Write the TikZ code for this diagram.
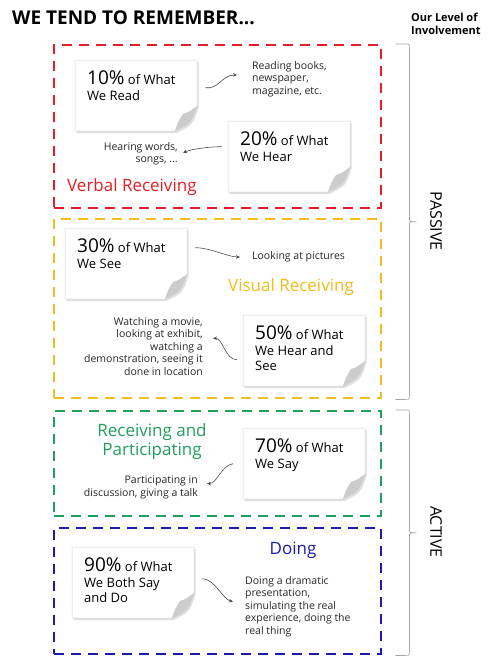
\documentclass[tikz,border=0pt]{standalone}
\usepackage{fontspec}
\setmainfont{Open Sans}
\usetikzlibrary{arrows.meta,calc,shadows,backgrounds}

\definecolor{verbalred}{RGB}{226,30,38}
\definecolor{visualyellow}{RGB}{240,188,30}
\definecolor{partgreen}{RGB}{32,160,92}
\definecolor{doingblue}{RGB}{28,28,170}

% text of a note card: big percentage, then the rest
\newcommand{\pct}[2]{\parbox[c][49pt][t]{98pt}{\fontsize{13}{15.5}\selectfont
  {\fontsize{19}{19}\selectfont #1\%} #2}}

\begin{document}
\begin{tikzpicture}[
  x=1pt, y=-1pt,
  frame/.style={draw=#1, line width=2.4pt, dash pattern=on 10pt off 7pt,
                minimum width=327pt, inner sep=0pt, anchor=north west},
  card/.style={minimum width=122pt, minimum height=71pt, inner sep=0pt,
               anchor=north west},
  lbl/.style={font=\fontsize{10.5}{12.5}\selectfont, inner sep=0pt, text=black!85},
  head/.style={font=\fontsize{17}{19}\selectfont, inner sep=0pt},
  curl/.style={-{Stealth[length=4pt,width=3.5pt]}, gray!60!black, line width=0.6pt},
  brc/.style={gray!70, line width=0.7pt},
]
  \useasboundingbox (0,0) rectangle (500,657);

  % Title
  \node[anchor=west, inner sep=0pt, font=\fontsize{19}{21}\selectfont\bfseries] (title) at (12,18)
    {WE TEND TO REMEMBER...};
  \node[anchor=north west, inner sep=0pt, align=left,
        font=\fontsize{11}{12.5}\selectfont\bfseries] (level) at (411,13)
    {Our Level of\\Involvement};

  % Dashed frames
  \node[frame=verbalred, minimum height=163pt] (verbalbox) at (53,44) {};
  \node[frame=visualyellow, minimum height=179pt] (visualbox) at (53,218) {};
  \node[frame=partgreen, minimum height=105pt] (partbox) at (53,410) {};
  \node[frame=doingblue, minimum height=126pt] (doingbox) at (53,527) {};

  % Note cards
  \node[card] (read) at (75,60) {\pct{10}{of What\\We Read}};
  \node[card] (hear) at (228,121) {\pct{20}{of What\\We Hear}};
  \node[card] (see) at (65,228) {\pct{30}{of What\\We See}};
  \node[card] (hearsee) at (243,315) {\pct{50}{of What\\We Hear and\\See}};
  \node[card] (say) at (243,428) {\pct{70}{of What\\We Say}};
  \node[card] (both) at (72,547) {\pct{90}{of What\\We Both Say\\and Do}};

  \begin{scope}[on background layer]
    \fill[white] (0,0) rectangle (500,657);
    \foreach \n in {read,hear,see,hearsee,say,both}{
      \fill[white, draw=gray!35, line width=0.5pt,
            drop shadow={opacity=0.25, shadow xshift=1.5pt, shadow yshift=-2pt},
            shift={(\n.north west)}]
        (0,0) -- (122,0) -- (122,46) .. controls (116,63) .. (100,71) -- (0,71) -- cycle;
      \fill[gray!40, shift={(\n.north west)}]
        (122,46) .. controls (116,63) .. (100,71) .. controls (103,62) .. (108,54)
        .. controls (114,52) .. (122,46) -- cycle;
    }
  \end{scope}

  % Labels
  \node[lbl, anchor=north west, align=left] (readtxt) at (252,61)
    {Reading books,\\newspaper,\\magazine, etc.};
  \node[lbl, anchor=north east, align=right] (heartxt) at (178,142)
    {Hearing words,\\songs, ...};
  \node[lbl, anchor=west] (seetxt) at (252,257) {Looking at pictures};
  \node[lbl, anchor=north east, align=right] (watchtxt) at (203,317)
    {Watching a movie,\\looking at exhibit,\\watching a\\demonstration, seeing it\\done in location};
  \node[lbl, anchor=north east, align=right] (partxt) at (198,476)
    {Participating in\\discussion, giving a talk};
  \node[lbl, anchor=north west, align=left] (dotxt) at (245,576)
    {Doing a dramatic\\presentation,\\simulating the real\\experience, doing the\\real thing};

  % Headings
  \node[head, anchor=west, text=verbalred] (verbal) at (67,187) {Verbal Receiving};
  \node[head, anchor=west, text=visualyellow] (visual) at (228,287) {Visual Receiving};
  \node[head, align=center, text=partgreen] (recpart) at (152,442)
    {Receiving and\\Participating};
  \node[head, text=doingblue] (doing) at (293,550) {Doing};

  % Curly arrows
  \draw[curl] ([shift={(8,-8)}]read.east) .. controls +(13,2) and +(-15,0) ..
    ([shift={(-15,-4)}]readtxt.west);
  \draw[curl] ([shift={(-6,-10)}]hear.west) .. controls +(-12,0) and +(10,-4) ..
    ([shift={(5,-1)}]heartxt.east);
  \draw[curl] ([shift={(8,-16)}]see.east) .. controls +(15,0) and +(-12,0) ..
    ([shift={(-12,0)}]seetxt.west);
  \draw[curl] ([shift={(-6,9)}]hearsee.west) .. controls +(-12,0) and +(10,0) ..
    ([shift={(10,-8)}]watchtxt.east);
  \draw[curl] ([shift={(-10,0)}]say.west) .. controls +(-12,2) and +(10,0) ..
    ([shift={(9,-4)}]partxt.east);
  \draw[curl] ([shift={(8,-4)}]both.east) .. controls +(12,0) and +(-10,-2) ..
    ([shift={(-12,-5)}]dotxt.west);

  % Involvement braces
  \foreach \a/\b in {verbalbox/visualbox, partbox/doingbox}{
    \draw[brc] let \p1=([xshift=13pt]\a.north east), \p2=([xshift=13pt]\b.south east),
                   \n1={0.5*(\y1+\y2)} in
      (\p1) -- (\x1+10pt,\y1) .. controls (\x1+14pt,\y1) .. (\x1+14pt,\y1-4pt)
      -- (\x1+14pt,\n1+4pt) .. controls (\x1+14pt,\n1) .. (\x1+21pt,\n1)
      .. controls (\x1+14pt,\n1) .. (\x1+14pt,\n1-4pt)
      -- (\x1+14pt,\y2+4pt) .. controls (\x1+14pt,\y2) .. (\x1+10pt,\y2) -- (\p2);
  }
  \node[rotate=-90, inner sep=0pt, font=\fontsize{16}{16}\selectfont] (passive) at (436,221) {PASSIVE};
  \node[rotate=-90, inner sep=0pt, font=\fontsize{16}{16}\selectfont] (active) at (436,532) {ACTIVE};
\end{tikzpicture}
\end{document}
